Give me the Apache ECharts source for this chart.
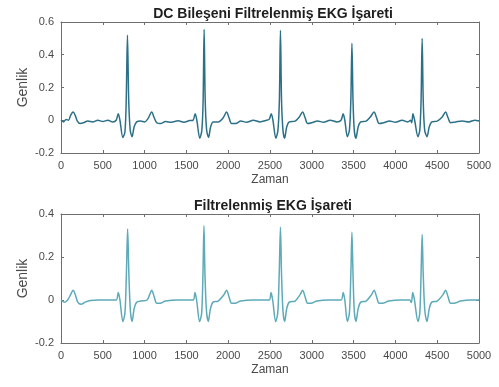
<!DOCTYPE html>
<html>
<head>
<meta charset="utf-8">
<script src="https://cdn.jsdelivr.net/npm/echarts@6/dist/echarts.min.js"></script>
<style>
  html, body { margin: 0; padding: 0; background: #fff; }
  #chart { width: 499px; height: 387px; }
</style>
</head>
<body>
<div id="chart"></div>
<script>
// [zaman, genlik] vertices
const topSignal = [
  [0, 0.0], [30, -0.01], [60, 0.005], [90, 0.0], [115, 0.03], [145, 0.05], [170, 0.03], [195, -0.005],
  [230, -0.02], [270, -0.015], [320, -0.005], [380, -0.01], [440, 0.0], [500, -0.008], [560, 0.0], [620, -0.01], [660, 0.0],
  [685, 0.04], [705, 0.0], [740, -0.105], [765, -0.07], [780, 0.12], [795, 0.52], [810, 0.12], [828, -0.06], [850, -0.1],
  [875, -0.04], [905, -0.01], [950, -0.005], [1000, -0.01], [1040, 0.01], [1085, 0.05], [1115, 0.015], [1145, -0.015],
  [1190, -0.02], [1250, -0.008], [1320, -0.012], [1400, -0.003], [1470, -0.012], [1540, -0.002], [1580, 0.0],
  [1605, 0.04], [1625, 0.0], [1660, -0.11], [1685, -0.06], [1700, 0.12], [1712, 0.555], [1725, 0.12], [1742, -0.06], [1765, -0.105],
  [1790, -0.04], [1820, -0.01], [1880, -0.01], [1940, 0.015], [1980, 0.05], [2010, 0.015], [2040, -0.02], [2090, -0.02],
  [2150, -0.005], [2220, -0.012], [2300, 0.0], [2380, -0.01], [2460, 0.0], [2490, 0.005],
  [2515, 0.04], [2535, 0.0], [2570, -0.11], [2595, -0.06], [2612, 0.12], [2625, 0.55], [2638, 0.12], [2655, -0.06], [2675, -0.11],
  [2700, -0.04], [2730, -0.01], [2800, -0.005], [2850, 0.02], [2890, 0.05], [2920, 0.015], [2950, -0.02], [3000, -0.015],
  [3070, -0.005], [3140, -0.012], [3220, 0.0], [3300, -0.01], [3350, 0.0],
  [3375, 0.04], [3395, 0.0], [3425, -0.1], [3450, -0.06], [3467, 0.12], [3480, 0.47], [3493, 0.12], [3508, -0.06], [3528, -0.11],
  [3555, -0.04], [3585, -0.01], [3650, -0.005], [3700, 0.02], [3745, 0.05], [3775, 0.015], [3805, -0.02], [3860, -0.015],
  [3930, -0.005], [4000, -0.012], [4080, 0.0], [4150, -0.01], [4180, 0.0], [4195, -0.015],
  [4210, 0.04], [4230, 0.0], [4270, -0.1], [4292, -0.06], [4307, 0.12], [4320, 0.5], [4333, 0.12], [4350, -0.06], [4378, -0.1],
  [4405, -0.04], [4435, -0.01], [4500, -0.005], [4560, 0.02], [4600, 0.05], [4630, 0.015], [4660, -0.015], [4720, -0.01],
  [4800, -0.004], [4880, -0.01], [4950, 0.0], [5000, -0.005]
];

const bottomSignal = [
  [0, 0.0], [40, -0.01], [80, 0.0], [115, 0.025], [145, 0.045], [175, 0.02], [200, -0.01], [240, -0.02],
  [290, -0.01], [350, -0.002], [450, 0.0], [560, 0.0], [660, 0.0],
  [685, 0.035], [705, 0.0], [740, -0.1], [765, -0.06], [782, 0.12], [797, 0.33], [812, 0.12], [830, -0.05], [850, -0.1],
  [875, -0.04], [905, -0.01], [960, -0.005], [1030, 0.0], [1060, 0.025], [1085, 0.045], [1115, 0.015], [1145, -0.015],
  [1185, -0.015], [1250, -0.005], [1400, 0.0], [1580, 0.0],
  [1602, 0.035], [1622, 0.0], [1658, -0.1], [1683, -0.06], [1698, 0.12], [1710, 0.345], [1722, 0.12], [1740, -0.05], [1762, -0.1],
  [1788, -0.04], [1818, -0.01], [1880, -0.005], [1950, 0.025], [1980, 0.045], [2010, 0.015], [2040, -0.015],
  [2080, -0.015], [2150, -0.005], [2300, 0.0], [2490, 0.0],
  [2512, 0.035], [2532, 0.0], [2568, -0.1], [2593, -0.06], [2610, 0.12], [2625, 0.34], [2638, 0.12], [2655, -0.05], [2675, -0.1],
  [2700, -0.04], [2730, -0.01], [2800, -0.005], [2860, 0.025], [2890, 0.045], [2920, 0.015], [2950, -0.015],
  [2990, -0.015], [3060, -0.005], [3200, 0.0], [3350, 0.0],
  [3375, 0.035], [3395, 0.0], [3425, -0.1], [3450, -0.06], [3467, 0.12], [3480, 0.315], [3493, 0.12], [3508, -0.05], [3528, -0.1],
  [3555, -0.04], [3585, -0.01], [3650, -0.005], [3715, 0.025], [3745, 0.045], [3775, 0.015], [3805, -0.015],
  [3845, -0.015], [3920, -0.005], [4060, 0.0], [4170, 0.0], [4190, -0.012],
  [4208, 0.035], [4228, 0.0], [4270, -0.1], [4292, -0.06], [4307, 0.12], [4320, 0.305], [4333, 0.12], [4352, -0.05], [4378, -0.1],
  [4405, -0.04], [4435, -0.01], [4500, -0.005], [4570, 0.025], [4600, 0.045], [4630, 0.015], [4660, -0.015],
  [4700, -0.015], [4780, -0.005], [4900, 0.0], [5000, 0.0]
];

const xTicks = { min: 0, max: 5000, interval: 500 };
const topY = { min: -0.2, max: 0.6, interval: 0.2 };
const bottomY = { min: -0.2, max: 0.4, interval: 0.2 };

const titles = ['DC Bileşeni Filtrelenmiş EKG İşareti', 'Filtrelenmiş EKG İşareti'];

const font = '"Liberation Sans", Arial, sans-serif';
const boxColor = '#6e6e6e';
const labelColor = '#4a4a4a';

function xAxes(gridIndex) {
  const base = {
    type: 'value', gridIndex: gridIndex,
    min: xTicks.min, max: xTicks.max, interval: xTicks.interval,
    splitLine: { show: false },
    axisLine: { show: true, onZero: false, lineStyle: { color: boxColor, width: 1 } },
    axisTick: { show: true, inside: true, length: 3, lineStyle: { color: boxColor } }
  };
  return [
    Object.assign({}, base, {
      position: 'bottom',
      name: 'Zaman', nameLocation: 'middle', nameGap: 21,
      nameTextStyle: { fontFamily: font, fontSize: 12, color: labelColor },
      axisLabel: { fontFamily: font, fontSize: 11, color: labelColor, margin: 7,
        formatter: function (v) { return String(v); } }
    }),
    Object.assign({}, base, { position: 'top', axisLabel: { show: false } })
  ];
}

function yAxes(gridIndex, range) {
  const base = {
    type: 'value', gridIndex: gridIndex,
    min: range.min, max: range.max, interval: range.interval,
    splitLine: { show: false },
    axisLine: { show: true, onZero: false, lineStyle: { color: boxColor, width: 1 } },
    axisTick: { show: true, inside: true, length: 3, lineStyle: { color: boxColor } }
  };
  return [
    Object.assign({}, base, {
      position: 'left',
      name: 'Genlik', nameLocation: 'middle', nameGap: 31, nameMoveOverlap: false,
      nameTextStyle: { fontFamily: font, fontSize: 14, color: labelColor },
      axisLabel: { fontFamily: font, fontSize: 11, color: labelColor, margin: 7 }
    }),
    Object.assign({}, base, { position: 'right', axisLabel: { show: false } })
  ];
}

const chart = echarts.init(document.getElementById('chart'), null, { renderer: 'canvas' });

const option = {
  animation: false,
  backgroundColor: '#ffffff',
  title: [
    { text: titles[0], left: 268, top: 2, textAlign: 'center',
      textStyle: { fontFamily: font, fontSize: 14, fontWeight: 'bold', color: '#1e1e1e' } },
    { text: titles[1], left: 268, top: 194, textAlign: 'center',
      textStyle: { fontFamily: font, fontSize: 14, fontWeight: 'bold', color: '#1e1e1e' } }
  ],
  grid: [
    { left: 61, top: 22, width: 418, height: 131, show: false },
    { left: 61, top: 214, width: 418, height: 129, show: false }
  ],
  xAxis: [].concat(xAxes(0), xAxes(1)),
  yAxis: [].concat(yAxes(0, topY), yAxes(1, bottomY)),
  series: [
    {
      type: 'line', xAxisIndex: 0, yAxisIndex: 0, data: topSignal,
      showSymbol: false, smooth: 0.3,
      lineStyle: { color: '#2c7088', width: 1.5 }
    },
    {
      type: 'line', xAxisIndex: 2, yAxisIndex: 2, data: bottomSignal,
      showSymbol: false, smooth: 0.3,
      lineStyle: { color: '#5eaab8', width: 1.5 }
    }
  ]
};

chart.setOption(option);
</script>
</body>
</html>
